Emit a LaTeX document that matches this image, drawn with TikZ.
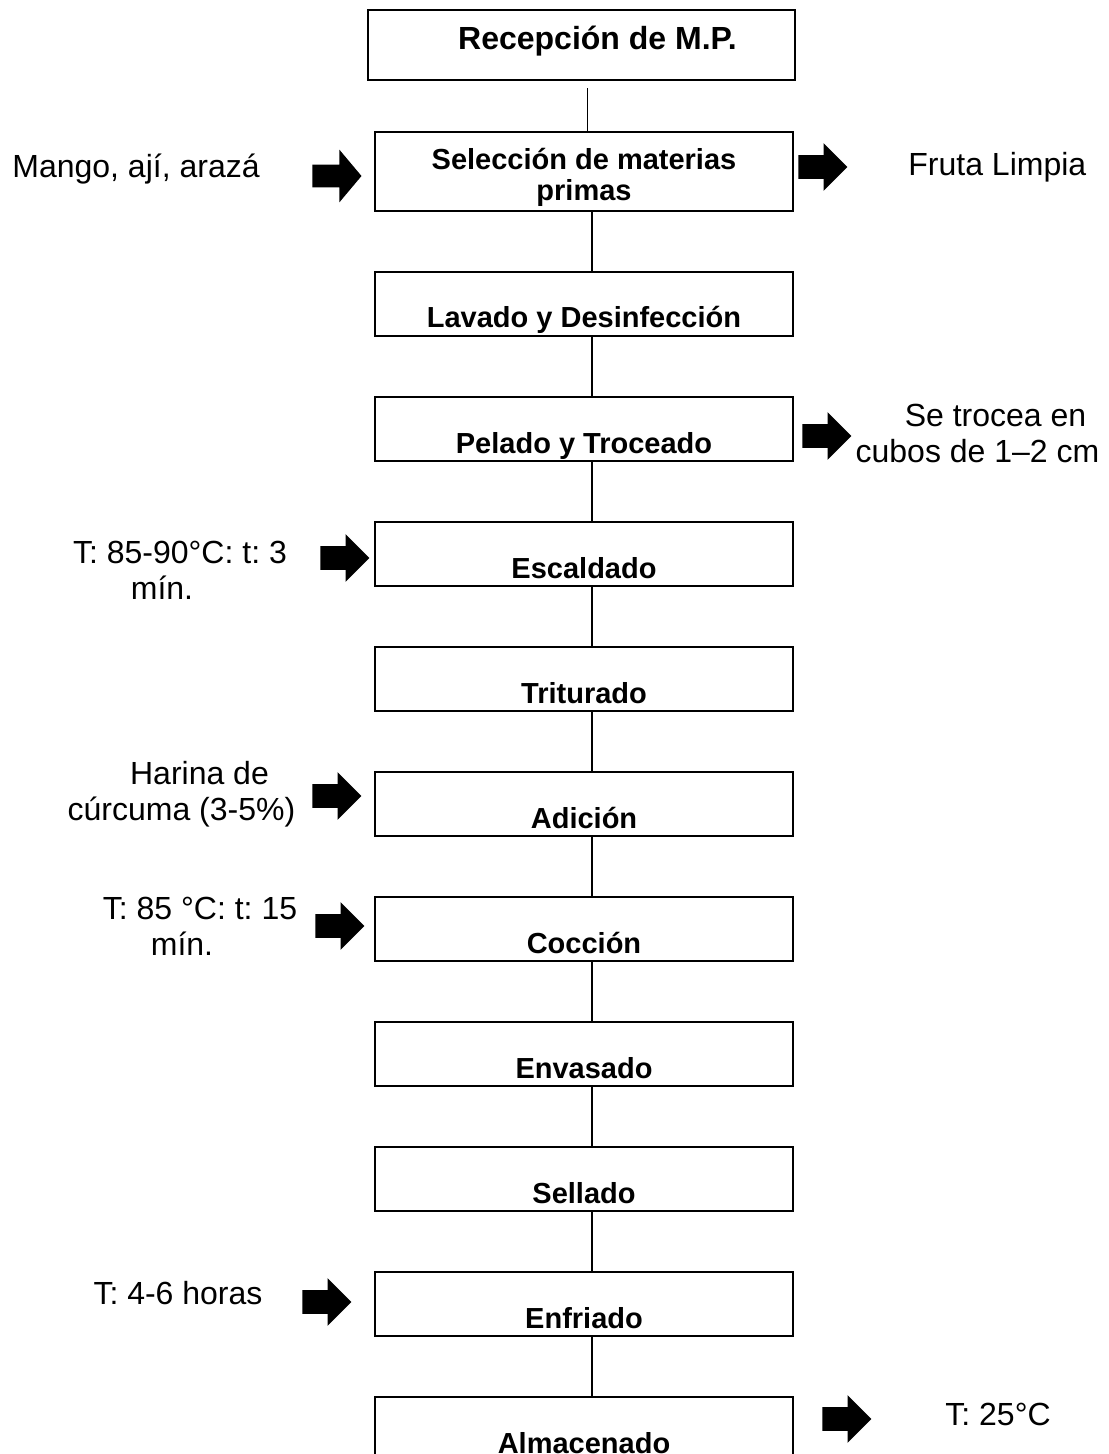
\documentclass[tikz,border=0pt]{standalone}
\usepackage{fontspec}
\setmainfont{Liberation Sans}
\usetikzlibrary{shapes.arrows}

\tikzset{
  stepbox/.style={draw, line width=1pt, minimum width=209pt, inner sep=0pt,
    text height=28pt, text depth=4pt, font=\fontsize{14.5}{15.5}\selectfont\bfseries},
  fatarrow/.style={single arrow, fill=black, inner xsep=0pt, inner ysep=5.75pt,
    minimum height=24.5pt, single arrow head extend=6pt, anchor=tip},
  sidetext/.style={align=center, inner sep=0pt, font=\fontsize{16}{18}\selectfont},
  link/.style={line width=0.8pt}
}

\begin{document}
\frenchspacing
\begin{tikzpicture}[x=0.5pt, y=-0.5pt]
  \useasboundingbox (0,0) rectangle (1108,1454);

  % Process steps
  \node[stepbox, line width=1.4pt, minimum width=213.5pt, text height=20pt, text depth=15pt,
    font=\fontsize{16}{18}\selectfont\bfseries] (rec) at (581.5,45) {\hspace*{16pt}Recepción de M.P.};
  \node[stepbox, align=center, text height=34.5pt, text depth=5pt] (sel) at (584,171.5) {Selección de materias\\primas};
  \node[stepbox] (lav) at (584,304) {Lavado y Desinfección};
  \node[stepbox] (pel) at (584,429) {Pelado y Troceado};
  \node[stepbox] (esc) at (584,554) {Escaldado};
  \node[stepbox] (tri) at (584,679) {Triturado};
  \node[stepbox] (adi) at (584,804) {Adición};
  \node[stepbox] (coc) at (584,929) {Cocción};
  \node[stepbox] (env) at (584,1054) {Envasado};
  \node[stepbox] (sell) at (584,1179) {Sellado};
  \node[stepbox] (enf) at (584,1304) {Enfriado};
  \node[stepbox] (alm) at (584,1429) {Almacenado};

  % Links between steps
  \draw[line width=0.5pt, shorten <=3.5pt] ([xshift=1.5pt]sel.north |- rec.south) -- ([xshift=1.5pt]sel.north);
  \draw[link] ([xshift=4pt]sel.south) -- ([xshift=4pt]lav.north);
  \draw[link] ([xshift=4pt]lav.south) -- ([xshift=4pt]pel.north);
  \draw[link] ([xshift=4pt]pel.south) -- ([xshift=4pt]esc.north);
  \draw[link] ([xshift=4pt]esc.south) -- ([xshift=4pt]tri.north);
  \draw[link] ([xshift=4pt]tri.south) -- ([xshift=4pt]adi.north);
  \draw[link] ([xshift=4pt]adi.south) -- ([xshift=4pt]coc.north);
  \draw[link] ([xshift=4pt]coc.south) -- ([xshift=4pt]env.north);
  \draw[link] ([xshift=4pt]env.south) -- ([xshift=4pt]sell.north);
  \draw[link] ([xshift=4pt]sell.south) -- ([xshift=4pt]enf.north);
  \draw[link] ([xshift=4pt]enf.south) -- ([xshift=4pt]alm.north);

  % Block arrows (placed by their tips)
  \node[fatarrow, inner ysep=5.5pt, single arrow head extend=7.5pt, single arrow tip angle=100] (ar1) at (362,176) {};
  \node[fatarrow] (ar2) at (848,167) {};
  \node[fatarrow] (ar3) at (852,436) {};
  \node[fatarrow] (ar4) at (370,558) {};
  \node[fatarrow] (ar5) at (362,796) {};
  \node[fatarrow] (ar6) at (365,926) {};
  \node[fatarrow] (ar7) at (352,1302) {};
  \node[fatarrow] (ar8) at (872,1419) {};

  % Inputs and outputs
  \node[sidetext, anchor=base west] (mango) at (12,178) {Mango, ají, arazá};
  \node[sidetext, anchor=base west] (fruta) at (908,176) {Fruta Limpia};
  \node[sidetext] (cubos) at (977.5,433) {\hspace*{18pt}Se trocea en\\cubos de 1–2 cm};
  \node[sidetext] (tesc) at (162,570) {\hspace*{18pt}T: 85-90°C: t: 3\\mín.};
  \node[sidetext] (harina) at (181.5,794.5) {\hspace*{18pt}Harina de\\cúrcuma (3-5\%)};
  \node[sidetext] (tcoc) at (182,926) {\hspace*{18pt}T: 85 °C: t: 15\\mín.};
  \node[sidetext, anchor=base] (tenf) at (178,1304) {T: 4-6 horas};
  \node[sidetext, anchor=base west] (talm) at (945,1425) {T: 25°C};
\end{tikzpicture}
\end{document}
